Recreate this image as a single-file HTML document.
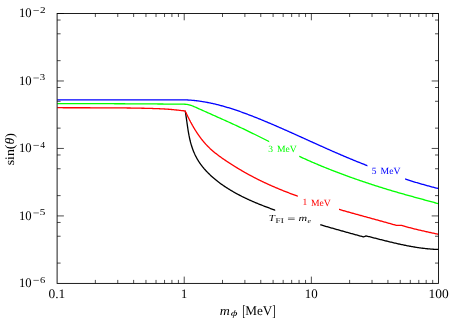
<!DOCTYPE html>
<html><head><meta charset="utf-8"><title>plot</title>
<style>
html,body{margin:0;padding:0;background:#fff;}
body{width:459px;height:323px;overflow:hidden;font-family:"Liberation Serif",serif;}
svg{will-change:transform;display:block;position:absolute;left:0;top:0;}
text{font-family:"Liberation Serif",serif;fill:#000;text-rendering:geometricPrecision;}
</style></head><body>
<svg width="459" height="323" viewBox="0 0 459 323">
<rect width="459" height="323" fill="#fff"/>
<path d="M95.37 283.40V279.90 M95.37 13.50V17.00 M117.76 283.40V279.90 M117.76 13.50V17.00 M133.64 283.40V279.90 M133.64 13.50V17.00 M145.96 283.40V279.90 M145.96 13.50V17.00 M156.03 283.40V279.90 M156.03 13.50V17.00 M164.54 283.40V279.90 M164.54 13.50V17.00 M171.91 283.40V279.90 M171.91 13.50V17.00 M178.42 283.40V279.90 M178.42 13.50V17.00 M184.23 283.40V276.60 M184.23 13.50V20.30 M222.50 283.40V279.90 M222.50 13.50V17.00 M244.89 283.40V279.90 M244.89 13.50V17.00 M260.78 283.40V279.90 M260.78 13.50V17.00 M273.10 283.40V279.90 M273.10 13.50V17.00 M283.16 283.40V279.90 M283.16 13.50V17.00 M291.67 283.40V279.90 M291.67 13.50V17.00 M299.05 283.40V279.90 M299.05 13.50V17.00 M305.55 283.40V279.90 M305.55 13.50V17.00 M311.37 283.40V276.60 M311.37 13.50V20.30 M349.64 283.40V279.90 M349.64 13.50V17.00 M372.02 283.40V279.90 M372.02 13.50V17.00 M387.91 283.40V279.90 M387.91 13.50V17.00 M400.23 283.40V279.90 M400.23 13.50V17.00 M410.30 283.40V279.90 M410.30 13.50V17.00 M418.81 283.40V279.90 M418.81 13.50V17.00 M426.18 283.40V279.90 M426.18 13.50V17.00 M432.68 283.40V279.90 M432.68 13.50V17.00 M57.10 263.09H60.60 M438.50 263.09H435.00 M57.10 236.24H60.60 M438.50 236.24H435.00 M57.10 222.46H60.60 M438.50 222.46H435.00 M57.10 215.92H63.90 M438.50 215.92H431.70 M57.10 195.61H60.60 M438.50 195.61H435.00 M57.10 168.76H60.60 M438.50 168.76H435.00 M57.10 154.99H60.60 M438.50 154.99H435.00 M57.10 148.45H63.90 M438.50 148.45H431.70 M57.10 128.14H60.60 M438.50 128.14H435.00 M57.10 101.29H60.60 M438.50 101.29H435.00 M57.10 87.51H60.60 M438.50 87.51H435.00 M57.10 80.97H63.90 M438.50 80.97H431.70 M57.10 60.66H60.60 M438.50 60.66H435.00 M57.10 33.81H60.60 M438.50 33.81H435.00 M57.10 20.04H60.60 M438.50 20.04H435.00 M57.10 13.50H63.90 M438.50 13.50H431.70" stroke="#000" stroke-width="0.7" fill="none"/>
<g fill="none" stroke-width="1.3" stroke-linejoin="round">
<path d="M185.20 110.95 L185.33 111.72 L185.46 112.48 L185.59 113.25 L185.71 114.01 L185.84 114.78 L185.95 115.55 L186.07 116.32 L186.19 117.09 L186.30 117.87 L186.41 118.64 L186.52 119.41 L186.63 120.19 L186.74 120.97 L186.85 121.74 L186.96 122.52 L187.07 123.29 L187.18 124.07 L187.29 124.85 L187.40 125.63 L187.51 126.40 L187.63 127.18 L187.74 127.96 L187.86 128.73 L187.98 129.51 L188.10 130.29 L188.23 131.06 L188.36 131.83 L188.49 132.61 L188.62 133.38 L188.76 134.15 L188.91 134.92 L189.05 135.69 L189.21 136.46 L189.36 137.23 L189.52 138.00 L189.69 138.76 L189.87 139.52 L190.04 140.28 L190.23 141.04 L190.42 141.80 L190.62 142.56 L190.83 143.31 L191.04 144.06 L191.26 144.81 L191.49 145.56 L191.72 146.30 L191.96 147.04 L192.21 147.78 L192.47 148.52 L192.73 149.25 L193.00 149.98 L193.28 150.71 L193.57 151.43 L193.87 152.15 L194.17 152.86 L194.48 153.58 L194.81 154.28 L195.13 154.99 L195.47 155.68 L195.82 156.38 L196.18 157.07 L196.54 157.75 L196.91 158.43 L197.30 159.11 L197.69 159.78 L198.09 160.45 L198.50 161.11 L198.92 161.76 L199.35 162.41 L199.79 163.05 L200.23 163.69 L200.69 164.33 L201.15 164.95 L201.62 165.58 L202.10 166.20 L202.58 166.81 L203.08 167.42 L203.58 168.02 L204.08 168.62 L204.60 169.21 L205.12 169.80 L205.64 170.38 L206.18 170.96 L206.72 171.53 L207.26 172.10 L207.81 172.66 L208.36 173.22 L208.92 173.78 L209.49 174.33 L210.06 174.87 L210.63 175.41 L211.21 175.95 L211.79 176.48 L212.38 177.00 L212.97 177.52 L213.57 178.04 L214.17 178.55 L214.77 179.06 L215.38 179.56 L216.00 180.06 L216.61 180.56 L217.23 181.05 L217.85 181.53 L218.48 182.01 L219.11 182.49 L219.74 182.96 L220.38 183.43 L221.02 183.90 L221.66 184.36 L222.31 184.81 L222.95 185.26 L223.60 185.71 L224.26 186.15 L224.91 186.59 L225.57 187.03 L226.23 187.46 L226.89 187.89 L227.55 188.31 L228.22 188.73 L228.88 189.15 L229.55 189.56 L230.22 189.97 L230.89 190.37 L231.57 190.77 L232.24 191.17 L232.92 191.56 L233.60 191.95 L234.28 192.34 L234.96 192.72 L235.64 193.10 L236.32 193.48 L237.01 193.85 L237.70 194.22 L238.39 194.59 L239.08 194.95 L239.77 195.31 L240.46 195.67 L241.16 196.02 L241.85 196.38 L242.55 196.72 L243.25 197.07 L243.95 197.41 L244.65 197.75 L245.35 198.09 L246.05 198.42 L246.76 198.75 L247.46 199.08 L248.17 199.41 L248.88 199.73 L249.59 200.06 L250.30 200.38 L251.01 200.69 L251.72 201.01 L252.43 201.32 L253.15 201.63 L253.86 201.94 L254.58 202.24 L255.30 202.55 L256.01 202.85 L256.73 203.15 L257.45 203.44 L258.17 203.74 L258.90 204.03 L259.62 204.33 L260.34 204.62 L261.07 204.90 L261.79 205.19 L262.52 205.48 L263.24 205.76 L263.97 206.04 L264.70 206.32 L265.42 206.60 L266.15 206.88 L266.88 207.16 L267.61 207.43 L268.34 207.71 L269.07 207.98 L269.81 208.25 L270.54 208.52 L271.27 208.79 L272.00 209.06 L272.74 209.33 L273.47 209.60 L274.20 209.86 L274.94 210.13 L275.67 210.39 L276.41 210.65 L277.15 210.91 L277.88 211.17 L278.62 211.43 L279.36 211.69 L280.09 211.95 L280.83 212.21 L281.57 212.46 L282.31 212.72 L283.05 212.97 L283.79 213.23 L284.53 213.48 L285.27 213.73 L286.01 213.98 L286.75 214.23 L287.49 214.48 L288.23 214.73 L288.98 214.98 L289.72 215.23 L290.46 215.47 L291.21 215.72 L291.95 215.96 L292.69 216.21 L293.44 216.45 L294.18 216.69 L294.93 216.93 L295.67 217.17 L296.42 217.41 L297.16 217.65 L297.91 217.89 L298.65 218.13 L299.40 218.37 L300.15 218.60 L300.89 218.84 L301.64 219.07 L302.39 219.31 L303.14 219.54 L303.88 219.77 L304.63 220.01 L305.38 220.24 L306.13 220.47 L306.88 220.70 L307.63 220.93 L308.38 221.16 L309.13 221.39 L309.88 221.62 L310.62 221.84 L311.38 222.07 L312.13 222.30 L312.88 222.52 L313.63 222.75 L314.38 222.97 L315.13 223.20 L315.88 223.42 L316.63 223.65 L317.38 223.87 L318.13 224.09 L318.88 224.31 L319.64 224.54 L320.39 224.76 L321.14 224.98 L321.89 225.20 L322.65 225.42 L323.40 225.64 L324.15 225.85 L324.90 226.07 L325.66 226.29 L326.41 226.51 L327.16 226.73 L327.91 226.94 L328.67 227.16 L329.42 227.37 L330.17 227.59 L330.93 227.81 L331.68 228.02 L332.43 228.24 L333.19 228.45 L333.94 228.66 L334.69 228.88 L335.45 229.09 L336.20 229.30 L336.95 229.52 L337.71 229.73 L338.46 229.94 L339.21 230.15 L339.97 230.37 L340.72 230.58 L341.47 230.79 L342.23 231.00 L342.98 231.21 L343.73 231.42 L344.49 231.63 L345.24 231.84 L345.99 232.05 L346.75 232.26 L347.50 232.47 L348.25 232.68 L349.01 232.89 L349.76 233.10 L350.51 233.31 L351.27 233.52 L352.02 233.73 L352.77 233.94 L353.52 234.15 L354.28 234.35 L355.03 234.56 L355.78 234.77 L356.53 234.98 L357.29 235.19 L358.04 235.40 L358.79 235.61 L359.54 235.81 L360.29 236.02 L361.04 236.23 L361.80 236.44 L362.55 236.65 L363.30 236.85 L363.30 236.85 L363.45 236.82 L363.60 236.79 L363.74 236.75 L363.89 236.71 L364.04 236.67 L364.18 236.63 L364.33 236.59 L364.47 236.54 L364.61 236.50 L364.75 236.45 L364.90 236.39 L365.04 236.34 L365.18 236.28 L365.32 236.22 L365.45 236.16 L365.59 236.10 L365.73 236.04 L365.86 235.97 L366.00 235.90 L366.00 235.90 L366.85 236.11 L367.69 236.32 L368.53 236.53 L369.37 236.74 L370.21 236.96 L371.06 237.17 L371.90 237.38 L372.74 237.60 L373.58 237.81 L374.43 238.03 L375.27 238.24 L376.11 238.45 L376.95 238.67 L377.80 238.88 L378.64 239.10 L379.48 239.31 L380.33 239.52 L381.17 239.74 L382.02 239.95 L382.86 240.16 L383.70 240.37 L384.55 240.58 L385.39 240.79 L386.24 241.00 L387.08 241.21 L387.93 241.42 L388.77 241.63 L389.62 241.83 L390.46 242.03 L391.31 242.24 L392.16 242.44 L393.00 242.64 L393.85 242.84 L394.70 243.03 L395.54 243.23 L396.39 243.42 L397.24 243.62 L398.09 243.81 L398.94 244.00 L399.79 244.18 L400.64 244.37 L401.49 244.55 L402.34 244.73 L403.19 244.91 L404.04 245.08 L404.89 245.26 L405.74 245.43 L406.59 245.60 L407.45 245.77 L408.30 245.93 L409.15 246.09 L410.01 246.25 L410.86 246.40 L411.72 246.56 L412.57 246.71 L413.43 246.85 L414.29 247.00 L415.14 247.14 L416.00 247.27 L416.86 247.41 L417.72 247.54 L418.58 247.67 L419.44 247.79 L420.30 247.91 L421.16 248.03 L422.02 248.14 L422.88 248.25 L423.74 248.35 L424.61 248.45 L425.47 248.55 L426.33 248.64 L427.20 248.73 L428.06 248.82 L428.93 248.90 L429.80 248.97 L430.67 249.05 L431.53 249.11 L432.40 249.18 L433.27 249.23 L434.14 249.29 L435.01 249.34 L435.89 249.38 L436.76 249.42 L437.63 249.45 L438.50 249.50" stroke="#000"/>
<path d="M57.30 107.70 L58.28 107.71 L59.27 107.71 L60.25 107.71 L61.24 107.72 L62.22 107.72 L63.21 107.73 L64.19 107.73 L65.18 107.73 L66.16 107.74 L67.15 107.74 L68.13 107.74 L69.12 107.74 L70.10 107.75 L71.09 107.75 L72.07 107.75 L73.06 107.75 L74.04 107.75 L75.03 107.76 L76.01 107.76 L77.00 107.76 L77.98 107.76 L78.97 107.76 L79.95 107.76 L80.94 107.76 L81.92 107.77 L82.91 107.77 L83.89 107.77 L84.88 107.77 L85.86 107.77 L86.84 107.77 L87.83 107.77 L88.81 107.77 L89.80 107.77 L90.78 107.78 L91.77 107.78 L92.75 107.78 L93.74 107.78 L94.72 107.78 L95.71 107.78 L96.69 107.78 L97.68 107.79 L98.66 107.79 L99.64 107.79 L100.63 107.79 L101.61 107.80 L102.60 107.80 L103.58 107.80 L104.57 107.81 L105.55 107.81 L106.54 107.81 L107.52 107.82 L108.51 107.82 L109.49 107.83 L110.47 107.83 L111.46 107.84 L112.44 107.84 L113.43 107.85 L114.41 107.86 L115.40 107.86 L116.38 107.87 L117.37 107.88 L118.35 107.89 L119.34 107.89 L120.32 107.90 L121.30 107.91 L122.29 107.92 L123.27 107.93 L124.26 107.94 L125.24 107.95 L126.23 107.96 L127.21 107.98 L128.20 107.99 L129.18 108.00 L130.16 108.02 L131.15 108.03 L132.13 108.04 L133.12 108.06 L134.10 108.08 L135.09 108.09 L136.07 108.11 L137.06 108.13 L138.04 108.15 L139.03 108.16 L140.01 108.18 L140.99 108.20 L141.98 108.23 L142.96 108.25 L143.95 108.27 L144.93 108.29 L145.92 108.32 L146.90 108.34 L147.89 108.37 L148.87 108.39 L149.86 108.42 L150.84 108.45 L151.82 108.47 L152.81 108.50 L153.79 108.53 L154.78 108.56 L155.76 108.60 L156.75 108.63 L157.73 108.67 L158.72 108.71 L159.70 108.75 L160.68 108.79 L161.67 108.84 L162.65 108.88 L163.63 108.94 L164.62 108.99 L165.60 109.06 L166.58 109.12 L167.56 109.19 L168.55 109.26 L169.53 109.34 L170.51 109.43 L171.49 109.52 L172.47 109.61 L173.45 109.70 L174.43 109.80 L175.41 109.91 L176.39 110.01 L177.37 110.11 L178.35 110.22 L179.32 110.33 L180.30 110.43 L181.28 110.54 L182.26 110.64 L183.24 110.75 L184.22 110.85 L185.20 110.95 L185.20 110.95 L185.50 111.66 L185.83 112.35 L186.15 113.04 L186.47 113.73 L186.80 114.42 L187.13 115.11 L187.47 115.80 L187.80 116.49 L188.14 117.18 L188.48 117.86 L188.83 118.55 L189.18 119.23 L189.53 119.92 L189.88 120.60 L190.24 121.28 L190.59 121.96 L190.96 122.64 L191.32 123.32 L191.69 123.99 L192.07 124.66 L192.44 125.34 L192.82 126.00 L193.21 126.67 L193.59 127.34 L193.98 128.00 L194.38 128.66 L194.78 129.31 L195.18 129.97 L195.59 130.62 L196.00 131.27 L196.41 131.91 L196.83 132.56 L197.25 133.20 L197.68 133.83 L198.11 134.47 L198.55 135.10 L198.99 135.72 L199.43 136.34 L199.88 136.96 L200.33 137.58 L200.79 138.19 L201.26 138.79 L201.73 139.40 L202.20 139.99 L202.68 140.59 L203.16 141.18 L203.65 141.76 L204.14 142.34 L204.64 142.92 L205.15 143.49 L205.66 144.06 L206.17 144.62 L206.69 145.17 L207.22 145.72 L207.75 146.27 L208.28 146.81 L208.83 147.34 L209.38 147.87 L209.93 148.40 L210.49 148.91 L211.05 149.43 L211.62 149.94 L212.19 150.44 L212.77 150.94 L213.35 151.44 L213.94 151.93 L214.53 152.41 L215.13 152.90 L215.72 153.38 L216.33 153.85 L216.93 154.32 L217.54 154.79 L218.16 155.25 L218.77 155.71 L219.39 156.17 L220.01 156.63 L220.64 157.08 L221.26 157.52 L221.89 157.97 L222.52 158.41 L223.16 158.85 L223.79 159.29 L224.43 159.73 L225.07 160.16 L225.71 160.59 L226.35 161.02 L227.00 161.45 L227.64 161.88 L228.29 162.30 L228.94 162.72 L229.58 163.14 L230.23 163.56 L230.88 163.98 L231.53 164.40 L232.18 164.81 L232.84 165.22 L233.49 165.64 L234.14 166.05 L234.80 166.45 L235.45 166.86 L236.11 167.26 L236.77 167.67 L237.43 168.07 L238.09 168.47 L238.75 168.86 L239.41 169.26 L240.07 169.65 L240.74 170.04 L241.40 170.43 L242.07 170.82 L242.73 171.21 L243.40 171.59 L244.07 171.97 L244.74 172.36 L245.41 172.73 L246.08 173.11 L246.75 173.48 L247.42 173.86 L248.09 174.23 L248.77 174.60 L249.44 174.96 L250.12 175.33 L250.80 175.69 L251.47 176.05 L252.15 176.41 L252.83 176.77 L253.51 177.12 L254.19 177.48 L254.87 177.83 L255.55 178.18 L256.24 178.52 L256.92 178.87 L257.61 179.21 L258.29 179.56 L258.98 179.90 L259.66 180.24 L260.35 180.57 L261.04 180.91 L261.73 181.24 L262.42 181.57 L263.11 181.90 L263.80 182.23 L264.49 182.56 L265.19 182.88 L265.88 183.21 L266.57 183.53 L267.27 183.85 L267.96 184.17 L268.66 184.48 L269.36 184.80 L270.06 185.11 L270.75 185.42 L271.45 185.73 L272.15 186.04 L272.85 186.35 L273.55 186.65 L274.26 186.96 L274.96 187.26 L275.66 187.56 L276.36 187.86 L277.07 188.16 L277.77 188.46 L278.48 188.75 L279.18 189.04 L279.89 189.34 L280.60 189.63 L281.31 189.92 L282.01 190.20 L282.72 190.49 L283.43 190.78 L284.14 191.06 L284.85 191.34 L285.57 191.62 L286.28 191.90 L286.99 192.18 L287.70 192.46 L288.42 192.73 L289.13 193.01 L289.84 193.28 L290.56 193.55 L291.28 193.82 L291.99 194.09 L292.71 194.36 L293.43 194.63 L294.14 194.89 L294.86 195.16 L295.58 195.42 L296.30 195.68 L297.02 195.94 L297.74 196.20 L298.46 196.46 L299.18 196.72 L299.90 196.97 L300.62 197.23 L301.35 197.48 L302.07 197.74 L302.79 197.99 L303.52 198.24 L304.24 198.49 L304.96 198.74 L305.69 198.99 L306.41 199.23 L307.14 199.48 L307.87 199.72 L308.59 199.97 L309.32 200.21 L310.05 200.45 L310.77 200.69 L311.50 200.93 L312.23 201.17 L312.96 201.41 L313.69 201.65 L314.42 201.88 L315.15 202.12 L315.88 202.36 L316.61 202.59 L317.34 202.82 L318.07 203.05 L318.80 203.29 L319.53 203.52 L320.27 203.75 L321.00 203.97 L321.73 204.20 L322.46 204.43 L323.20 204.66 L323.93 204.88 L324.66 205.11 L325.40 205.33 L326.13 205.56 L326.87 205.78 L327.60 206.00 L328.34 206.22 L329.07 206.45 L329.81 206.67 L330.54 206.89 L331.28 207.11 L332.02 207.32 L332.75 207.54 L333.49 207.76 L334.23 207.98 L334.96 208.19 L335.70 208.41 L336.44 208.62 L337.17 208.84 L337.91 209.05 L338.65 209.27 L339.39 209.48 L340.13 209.69 L340.87 209.90 L341.60 210.12 L342.34 210.33 L343.08 210.54 L343.82 210.75 L344.56 210.96 L345.30 211.17 L346.04 211.38 L346.78 211.59 L347.52 211.80 L348.26 212.00 L349.00 212.21 L349.74 212.42 L350.48 212.63 L351.22 212.83 L351.96 213.04 L352.70 213.25 L353.44 213.45 L354.18 213.66 L354.92 213.86 L355.66 214.07 L356.40 214.28 L357.14 214.48 L357.88 214.69 L358.62 214.89 L359.36 215.09 L360.10 215.30 L360.84 215.50 L361.58 215.71 L362.32 215.91 L363.06 216.11 L363.80 216.32 L364.55 216.52 L365.29 216.72 L366.03 216.93 L366.77 217.13 L367.51 217.33 L368.25 217.54 L368.99 217.74 L369.73 217.94 L370.47 218.15 L371.21 218.35 L371.95 218.55 L372.69 218.76 L373.43 218.96 L374.17 219.16 L374.91 219.37 L375.65 219.57 L376.39 219.77 L377.13 219.98 L377.87 220.18 L378.61 220.39 L379.35 220.59 L380.08 220.79 L380.82 221.00 L381.56 221.20 L382.30 221.41 L383.04 221.61 L383.78 221.82 L384.52 222.02 L385.25 222.23 L385.99 222.43 L386.73 222.64 L387.47 222.85 L388.20 223.05 L388.94 223.26 L389.68 223.47 L390.41 223.68 L391.15 223.88 L391.89 224.09 L392.62 224.30 L393.36 224.51 L394.09 224.72 L394.83 224.93 L395.56 225.14 L396.30 225.35 L396.30 225.35 L396.58 225.36 L396.86 225.37 L397.14 225.38 L397.42 225.39 L397.69 225.40 L397.97 225.40 L398.25 225.41 L398.53 225.41 L398.81 225.42 L399.09 225.42 L399.37 225.42 L399.65 225.42 L399.93 225.42 L400.20 225.42 L400.48 225.42 L400.76 225.42 L401.04 225.41 L401.32 225.41 L401.60 225.40 L401.60 225.40 L402.43 225.65 L403.26 225.89 L404.08 226.13 L404.91 226.37 L405.75 226.60 L406.58 226.83 L407.41 227.06 L408.24 227.29 L409.08 227.51 L409.91 227.73 L410.75 227.95 L411.58 228.17 L412.42 228.38 L413.25 228.59 L414.09 228.80 L414.93 229.01 L415.77 229.21 L416.61 229.42 L417.45 229.62 L418.29 229.82 L419.13 230.02 L419.97 230.21 L420.81 230.41 L421.65 230.60 L422.49 230.80 L423.33 230.99 L424.17 231.18 L425.02 231.37 L425.86 231.56 L426.70 231.75 L427.54 231.93 L428.39 232.12 L429.23 232.31 L430.07 232.49 L430.92 232.68 L431.76 232.86 L432.60 233.05 L433.44 233.24 L434.29 233.42 L435.13 233.61 L435.97 233.79 L436.82 233.98 L437.66 234.16 L438.50 234.35" stroke="#ff0000"/>
<path d="M57.30 103.60 L58.31 103.60 L59.31 103.60 L60.32 103.60 L61.32 103.60 L62.33 103.61 L63.33 103.61 L64.34 103.61 L65.35 103.61 L66.35 103.61 L67.36 103.61 L68.36 103.61 L69.37 103.61 L70.37 103.62 L71.38 103.62 L72.38 103.62 L73.39 103.62 L74.40 103.62 L75.40 103.62 L76.41 103.63 L77.41 103.63 L78.42 103.63 L79.42 103.63 L80.43 103.63 L81.44 103.63 L82.44 103.64 L83.45 103.64 L84.45 103.64 L85.46 103.64 L86.46 103.64 L87.47 103.65 L88.48 103.65 L89.48 103.65 L90.49 103.65 L91.49 103.66 L92.50 103.66 L93.50 103.66 L94.51 103.66 L95.51 103.67 L96.52 103.67 L97.53 103.67 L98.53 103.67 L99.54 103.68 L100.54 103.68 L101.55 103.68 L102.55 103.69 L103.56 103.69 L104.57 103.69 L105.57 103.70 L106.58 103.70 L107.58 103.70 L108.59 103.71 L109.59 103.71 L110.60 103.71 L111.61 103.72 L112.61 103.72 L113.62 103.72 L114.62 103.73 L115.63 103.73 L116.63 103.74 L117.64 103.74 L118.65 103.74 L119.65 103.75 L120.66 103.75 L121.66 103.76 L122.67 103.76 L123.67 103.77 L124.68 103.77 L125.68 103.78 L126.69 103.78 L127.70 103.79 L128.70 103.79 L129.71 103.80 L130.71 103.80 L131.72 103.81 L132.72 103.81 L133.73 103.82 L134.74 103.82 L135.74 103.83 L136.75 103.83 L137.75 103.84 L138.76 103.85 L139.76 103.85 L140.77 103.86 L141.78 103.86 L142.78 103.87 L143.79 103.88 L144.79 103.88 L145.80 103.89 L146.80 103.90 L147.81 103.90 L148.81 103.91 L149.82 103.92 L150.83 103.92 L151.83 103.93 L152.84 103.94 L153.84 103.95 L154.85 103.95 L155.85 103.96 L156.86 103.97 L157.87 103.98 L158.87 103.98 L159.88 103.99 L160.88 104.00 L161.89 104.01 L162.89 104.02 L163.90 104.03 L164.90 104.03 L165.91 104.04 L166.92 104.05 L167.92 104.06 L168.93 104.07 L169.93 104.08 L170.94 104.09 L171.94 104.10 L172.95 104.11 L173.96 104.12 L174.96 104.13 L175.97 104.14 L176.97 104.15 L177.98 104.16 L178.98 104.17 L179.99 104.18 L180.99 104.19 L182.00 104.20 L182.00 104.17 L183.00 104.18 L184.00 104.21 L185.00 104.26 L186.00 104.34 L187.00 104.45 L188.00 104.62 L189.00 104.83 L190.00 105.09 L191.00 105.40 L192.00 105.76 L193.00 106.15 L194.00 106.58 L195.00 107.02 L196.00 107.46 L197.00 107.91 L198.00 108.35 L199.00 108.79 L200.00 109.24 L201.00 109.69 L202.00 110.13 L203.00 110.58 L204.00 111.02 L205.00 111.47 L206.00 111.92 L207.00 112.37 L208.00 112.81 L209.00 113.26 L210.00 113.71 L211.00 114.16 L212.00 114.60 L213.00 115.05 L214.00 115.50 L215.00 115.94 L216.00 116.39 L217.00 116.84 L218.00 117.29 L219.00 117.74 L220.00 118.18 L221.00 118.63 L222.00 119.08 L223.00 119.53 L224.00 119.98 L225.00 120.43 L226.00 120.88 L227.00 121.33 L228.00 121.78 L229.00 122.23 L230.00 122.68 L231.00 123.14 L232.00 123.60 L233.00 124.05 L234.00 124.51 L235.00 124.97 L236.00 125.43 L237.00 125.89 L238.00 126.36 L239.00 126.82 L240.00 127.29 L241.00 127.76 L242.00 128.23 L243.00 128.70 L244.00 129.18 L245.00 129.66 L246.00 130.14 L247.00 130.62 L248.00 131.10 L249.00 131.59 L250.00 132.08 L251.00 132.57 L252.00 133.06 L253.00 133.55 L254.00 134.04 L255.00 134.53 L256.00 135.03 L257.00 135.52 L258.00 136.02 L259.00 136.52 L260.00 137.02 L261.00 137.52 L262.00 138.02 L263.00 138.52 L264.00 139.03 L265.00 139.53 L266.00 140.03 L267.00 140.53 L268.00 141.04 L269.00 141.54 L270.00 142.04 L271.00 142.54 L272.00 143.05 L273.00 143.55 L274.00 144.05 L275.00 144.56 L276.00 145.06 L277.00 145.56 L278.00 146.06 L279.00 146.56 L280.00 147.06 L281.00 147.55 L282.00 148.05 L283.00 148.54 L284.00 149.04 L285.00 149.53 L286.00 150.02 L287.00 150.51 L288.00 151.00 L289.00 151.48 L290.00 151.97 L291.00 152.45 L292.00 152.93 L293.00 153.41 L294.00 153.88 L295.00 154.35 L296.00 154.83 L297.00 155.29 L298.00 155.76 L299.00 156.23 L300.00 156.69 L301.00 157.15 L302.00 157.61 L303.00 158.06 L304.00 158.51 L305.00 158.96 L306.00 159.41 L307.00 159.86 L308.00 160.30 L309.00 160.74 L310.00 161.18 L311.00 161.62 L312.00 162.06 L313.00 162.49 L314.00 162.92 L315.00 163.35 L316.00 163.77 L317.00 164.20 L318.00 164.62 L319.00 165.04 L320.00 165.45 L321.00 165.87 L322.00 166.28 L323.00 166.69 L324.00 167.10 L325.00 167.51 L326.00 167.91 L327.00 168.31 L328.00 168.71 L329.00 169.11 L330.00 169.50 L331.00 169.90 L332.00 170.29 L333.00 170.68 L334.00 171.06 L335.00 171.45 L336.00 171.83 L337.00 172.21 L338.00 172.59 L339.00 172.97 L340.00 173.34 L341.00 173.72 L342.00 174.09 L343.00 174.46 L344.00 174.83 L345.00 175.20 L346.00 175.57 L347.00 175.94 L348.00 176.30 L349.00 176.66 L350.00 177.02 L351.00 177.38 L352.00 177.74 L353.00 178.10 L354.00 178.45 L355.00 178.80 L356.00 179.15 L357.00 179.50 L358.00 179.85 L359.00 180.20 L360.00 180.54 L361.00 180.88 L362.00 181.22 L363.00 181.56 L364.00 181.90 L365.00 182.24 L366.00 182.57 L367.00 182.90 L368.00 183.23 L369.00 183.56 L370.00 183.89 L371.00 184.22 L372.00 184.54 L373.00 184.87 L374.00 185.19 L375.00 185.51 L376.00 185.83 L377.00 186.15 L378.00 186.46 L379.00 186.78 L380.00 187.09 L381.00 187.41 L382.00 187.72 L383.00 188.03 L384.00 188.34 L385.00 188.65 L386.00 188.95 L387.00 189.26 L388.00 189.56 L389.00 189.86 L390.00 190.17 L391.00 190.46 L392.00 190.76 L393.00 191.06 L394.00 191.35 L395.00 191.65 L396.00 191.94 L397.00 192.23 L398.00 192.52 L399.00 192.81 L400.00 193.10 L401.00 193.38 L402.00 193.67 L403.00 193.95 L404.00 194.23 L405.00 194.51 L406.00 194.79 L407.00 195.07 L408.00 195.35 L409.00 195.63 L410.00 195.90 L411.00 196.18 L412.00 196.46 L413.00 196.74 L414.00 197.01 L415.00 197.29 L416.00 197.56 L417.00 197.84 L418.00 198.11 L419.00 198.38 L420.00 198.66 L421.00 198.93 L422.00 199.21 L423.00 199.48 L424.00 199.75 L425.00 200.03 L426.00 200.30 L427.00 200.57 L428.00 200.84 L429.00 201.12 L430.00 201.39 L431.00 201.66 L432.00 201.93 L433.00 202.20 L434.00 202.48 L435.00 202.75 L436.00 203.02 L437.00 203.29 L438.50 203.70" stroke="#00ff00"/>
<path d="M57.30 99.85 L176.00 99.85 L176.00 99.85 L176.78 99.87 L177.59 99.85 L178.39 99.83 L179.19 99.81 L179.98 99.81 L180.78 99.80 L181.58 99.80 L182.38 99.81 L183.18 99.82 L183.97 99.84 L184.77 99.86 L185.57 99.89 L186.36 99.92 L187.16 99.96 L187.95 100.00 L188.75 100.05 L189.54 100.10 L190.33 100.16 L191.13 100.22 L191.92 100.28 L192.71 100.35 L193.50 100.43 L194.29 100.51 L195.08 100.59 L195.87 100.68 L196.66 100.77 L197.45 100.87 L198.24 100.97 L199.02 101.07 L199.81 101.18 L200.60 101.30 L201.38 101.41 L202.17 101.54 L202.95 101.66 L203.73 101.79 L204.52 101.92 L205.30 102.06 L206.08 102.20 L206.86 102.35 L207.64 102.50 L208.42 102.65 L209.20 102.80 L209.98 102.96 L210.76 103.13 L211.54 103.29 L212.31 103.46 L213.09 103.64 L213.86 103.81 L214.64 103.99 L215.41 104.18 L216.19 104.36 L216.96 104.55 L217.73 104.74 L218.50 104.94 L219.27 105.14 L220.04 105.34 L220.81 105.55 L221.58 105.75 L222.35 105.96 L223.11 106.18 L223.88 106.39 L224.65 106.61 L225.41 106.83 L226.18 107.06 L226.94 107.28 L227.70 107.51 L228.47 107.74 L229.23 107.98 L229.99 108.21 L230.75 108.45 L231.51 108.69 L232.27 108.93 L233.03 109.18 L233.78 109.43 L234.54 109.68 L235.30 109.93 L236.05 110.18 L236.81 110.44 L237.56 110.69 L238.32 110.95 L239.07 111.22 L239.82 111.48 L240.57 111.74 L241.33 112.01 L242.08 112.28 L242.83 112.55 L243.58 112.82 L244.32 113.10 L245.07 113.37 L245.82 113.65 L246.57 113.93 L247.32 114.21 L248.06 114.49 L248.81 114.77 L249.55 115.06 L250.30 115.34 L251.04 115.63 L251.79 115.92 L252.53 116.21 L253.27 116.50 L254.01 116.79 L254.76 117.08 L255.50 117.38 L256.24 117.67 L256.98 117.97 L257.72 118.27 L258.46 118.57 L259.20 118.87 L259.94 119.17 L260.67 119.47 L261.41 119.77 L262.15 120.07 L262.89 120.38 L263.62 120.68 L264.36 120.99 L265.09 121.29 L265.83 121.60 L266.57 121.91 L267.30 122.22 L268.03 122.53 L268.77 122.84 L269.50 123.15 L270.24 123.46 L270.97 123.77 L271.70 124.08 L272.43 124.39 L273.17 124.71 L273.90 125.02 L274.63 125.34 L275.36 125.65 L276.09 125.97 L276.82 126.29 L277.55 126.60 L278.28 126.92 L279.01 127.24 L279.74 127.56 L280.47 127.88 L281.20 128.20 L281.93 128.52 L282.66 128.84 L283.39 129.16 L284.11 129.48 L284.84 129.80 L285.57 130.12 L286.30 130.45 L287.03 130.77 L287.75 131.09 L288.48 131.42 L289.21 131.74 L289.93 132.07 L290.66 132.39 L291.39 132.71 L292.11 133.04 L292.84 133.37 L293.57 133.69 L294.29 134.02 L295.02 134.34 L295.74 134.67 L296.47 135.00 L297.19 135.32 L297.92 135.65 L298.64 135.98 L299.37 136.31 L300.09 136.63 L300.82 136.96 L301.55 137.29 L302.27 137.62 L302.99 137.94 L303.72 138.27 L304.44 138.60 L305.17 138.93 L305.89 139.26 L306.62 139.58 L307.34 139.91 L308.07 140.24 L308.79 140.57 L309.52 140.90 L310.24 141.22 L310.97 141.55 L311.69 141.88 L312.42 142.21 L313.14 142.54 L313.87 142.86 L314.59 143.19 L315.32 143.52 L316.04 143.85 L316.77 144.17 L317.49 144.50 L318.22 144.83 L318.94 145.15 L319.67 145.48 L320.39 145.80 L321.12 146.13 L321.85 146.46 L322.57 146.78 L323.30 147.11 L324.02 147.43 L324.75 147.75 L325.48 148.08 L326.20 148.40 L326.93 148.73 L327.66 149.05 L328.39 149.37 L329.11 149.69 L329.84 150.01 L330.57 150.34 L331.30 150.66 L332.02 150.98 L332.75 151.30 L333.48 151.62 L334.21 151.94 L334.94 152.25 L335.67 152.57 L336.40 152.89 L337.13 153.21 L337.86 153.52 L338.59 153.84 L339.32 154.16 L340.05 154.47 L340.78 154.78 L341.51 155.10 L342.24 155.41 L342.98 155.72 L343.71 156.03 L344.44 156.35 L345.17 156.66 L345.91 156.97 L346.64 157.28 L347.37 157.58 L348.11 157.89 L348.84 158.20 L349.58 158.50 L350.31 158.81 L351.05 159.12 L351.78 159.42 L352.52 159.72 L353.26 160.03 L353.99 160.33 L354.73 160.63 L355.47 160.93 L356.20 161.23 L356.94 161.53 L357.68 161.83 L358.42 162.13 L359.16 162.42 L359.90 162.72 L360.64 163.02 L361.38 163.31 L362.12 163.61 L362.86 163.90 L363.60 164.19 L364.34 164.48 L365.08 164.77 L365.82 165.06 L366.56 165.35 L367.30 165.64 L368.05 165.93 L368.79 166.22 L369.53 166.50 L370.28 166.79 L371.02 167.07 L371.76 167.36 L372.51 167.64 L373.25 167.92 L374.00 168.20 L374.74 168.49 L375.49 168.77 L376.23 169.04 L376.98 169.32 L377.73 169.60 L378.47 169.88 L379.22 170.15 L379.97 170.43 L380.72 170.70 L381.46 170.97 L382.21 171.24 L382.96 171.52 L383.71 171.79 L384.46 172.05 L385.21 172.32 L385.96 172.59 L386.71 172.86 L387.46 173.12 L388.21 173.39 L388.96 173.65 L389.72 173.91 L390.47 174.18 L391.22 174.44 L391.97 174.70 L392.72 174.96 L393.48 175.21 L394.23 175.47 L394.99 175.73 L395.74 175.98 L396.49 176.24 L397.25 176.49 L398.00 176.74 L398.76 177.00 L399.52 177.25 L400.27 177.50 L401.03 177.74 L401.79 177.99 L402.54 178.24 L403.30 178.48 L404.06 178.73 L404.82 178.97 L405.57 179.21 L406.33 179.45 L407.09 179.69 L407.85 179.93 L408.61 180.17 L409.37 180.41 L410.13 180.65 L410.89 180.88 L411.65 181.11 L412.41 181.35 L413.18 181.58 L413.94 181.81 L414.70 182.04 L415.46 182.27 L416.23 182.50 L416.99 182.72 L417.75 182.95 L418.52 183.17 L419.28 183.39 L420.05 183.62 L420.81 183.84 L421.58 184.06 L422.34 184.28 L423.11 184.49 L423.88 184.71 L424.64 184.93 L425.41 185.14 L426.18 185.35 L426.94 185.56 L427.71 185.77 L428.48 185.98 L429.25 186.19 L430.02 186.40 L430.79 186.61 L431.56 186.81 L432.33 187.01 L433.10 187.22 L433.87 187.42 L434.64 187.62 L435.41 187.82 L436.18 188.01 L436.96 188.21 L437.73 188.41 L438.50 188.60" stroke="#0000ff"/>
</g>
<rect x="57.1" y="13.5" width="381.4" height="269.9" fill="none" stroke="#000" stroke-width="0.88"/>
<g fill="#fff" stroke="none">
<rect x="367.4" y="160" width="37.7" height="21.2"/>
<rect x="269.2" y="138" width="30" height="21"/>
<rect x="297.8" y="192" width="41.2" height="20"/>
<rect x="275.2" y="207" width="45" height="20"/>
</g>
<text x="371.75" y="174.40" font-size="9.5" style="fill:#0000ff">5</text>
<text x="380.62" y="174.40" font-size="9.5" style="fill:#0000ff" textLength="19.89" lengthAdjust="spacingAndGlyphs">MeV</text>
<text x="268.15" y="151.90" font-size="9.5" style="fill:#00ff00">3</text>
<text x="276.92" y="151.90" font-size="9.5" style="fill:#00ff00" textLength="19.79" lengthAdjust="spacingAndGlyphs">MeV</text>
<text x="302.57" y="205.40" font-size="9.5" style="fill:#ff0000">1</text>
<text x="311.02" y="205.50" font-size="9.5" style="fill:#ff0000" textLength="19.79" lengthAdjust="spacingAndGlyphs">MeV</text>
<text x="268.87" y="220.80" font-size="9.3" font-style="italic" textLength="6.17" lengthAdjust="spacingAndGlyphs">T</text>
<text x="275.64" y="222.70" font-size="7.3" textLength="8.08" lengthAdjust="spacingAndGlyphs">FI</text>
<text x="287.18" y="221.50" font-size="9.5" textLength="8.12" lengthAdjust="spacingAndGlyphs">=</text>
<text x="298.47" y="220.80" font-size="9" font-style="italic" textLength="8.63" lengthAdjust="spacingAndGlyphs">m</text>
<text x="307.56" y="222.60" font-size="6.4" font-style="italic" textLength="3.52" lengthAdjust="spacingAndGlyphs">e</text>
<text x="18.88" y="17.25" font-size="13" textLength="12.70" lengthAdjust="spacingAndGlyphs">10</text>
<path d="M33.4 10.50H38.9" stroke="#000" stroke-width="0.55" fill="none"/>
<text x="39.91" y="12.90" font-size="9" textLength="5.61" lengthAdjust="spacingAndGlyphs">2</text>
<text x="18.88" y="84.72" font-size="13" textLength="12.70" lengthAdjust="spacingAndGlyphs">10</text>
<path d="M33.4 77.97H38.9" stroke="#000" stroke-width="0.55" fill="none"/>
<text x="39.88" y="80.38" font-size="9" textLength="5.45" lengthAdjust="spacingAndGlyphs">3</text>
<text x="18.88" y="152.20" font-size="13" textLength="12.70" lengthAdjust="spacingAndGlyphs">10</text>
<path d="M33.4 145.45H38.9" stroke="#000" stroke-width="0.55" fill="none"/>
<text x="40.21" y="147.85" font-size="9" textLength="4.84" lengthAdjust="spacingAndGlyphs">4</text>
<text x="18.88" y="219.67" font-size="13" textLength="12.70" lengthAdjust="spacingAndGlyphs">10</text>
<path d="M33.4 212.92H38.9" stroke="#000" stroke-width="0.55" fill="none"/>
<text x="39.75" y="215.32" font-size="9" textLength="5.59" lengthAdjust="spacingAndGlyphs">5</text>
<text x="18.88" y="287.15" font-size="13" textLength="12.70" lengthAdjust="spacingAndGlyphs">10</text>
<path d="M33.4 280.40H38.9" stroke="#000" stroke-width="0.55" fill="none"/>
<text x="39.95" y="282.80" font-size="9" textLength="5.27" lengthAdjust="spacingAndGlyphs">6</text>
<text x="48.49" y="298.00" font-size="13" textLength="16.82" lengthAdjust="spacingAndGlyphs">0.1</text>
<text x="181.10" y="298.00" font-size="13" textLength="6.25" lengthAdjust="spacingAndGlyphs">1</text>
<text x="304.86" y="298.00" font-size="13" textLength="12.93" lengthAdjust="spacingAndGlyphs">10</text>
<text x="428.62" y="298.00" font-size="13" textLength="20.20" lengthAdjust="spacingAndGlyphs">100</text>
<text x="219.80" y="315.30" font-size="13" font-style="italic" textLength="10.09" lengthAdjust="spacingAndGlyphs">m</text>
<text x="230.80" y="316.30" font-size="8.8" font-style="italic" textLength="6.70" lengthAdjust="spacingAndGlyphs">ϕ</text>
<text x="242.27" y="316.20" font-size="15.5" textLength="3.29" lengthAdjust="spacingAndGlyphs">[</text>
<text x="245.22" y="315.30" font-size="13.4" textLength="27.13" lengthAdjust="spacingAndGlyphs">MeV</text>
<text x="272.13" y="316.20" font-size="15.5" textLength="3.44" lengthAdjust="spacingAndGlyphs">]</text>
<g transform="translate(13.8 164.8) rotate(-90)"><text x="-0.57" y="0" font-size="13" textLength="20.84" lengthAdjust="spacingAndGlyphs">sin(</text><text x="20.27" y="0" font-size="13" font-style="italic" textLength="6.82" lengthAdjust="spacingAndGlyphs">θ</text><text x="27.09" y="0" font-size="13" textLength="4.63" lengthAdjust="spacingAndGlyphs">)</text></g>
</svg>
</body></html>
